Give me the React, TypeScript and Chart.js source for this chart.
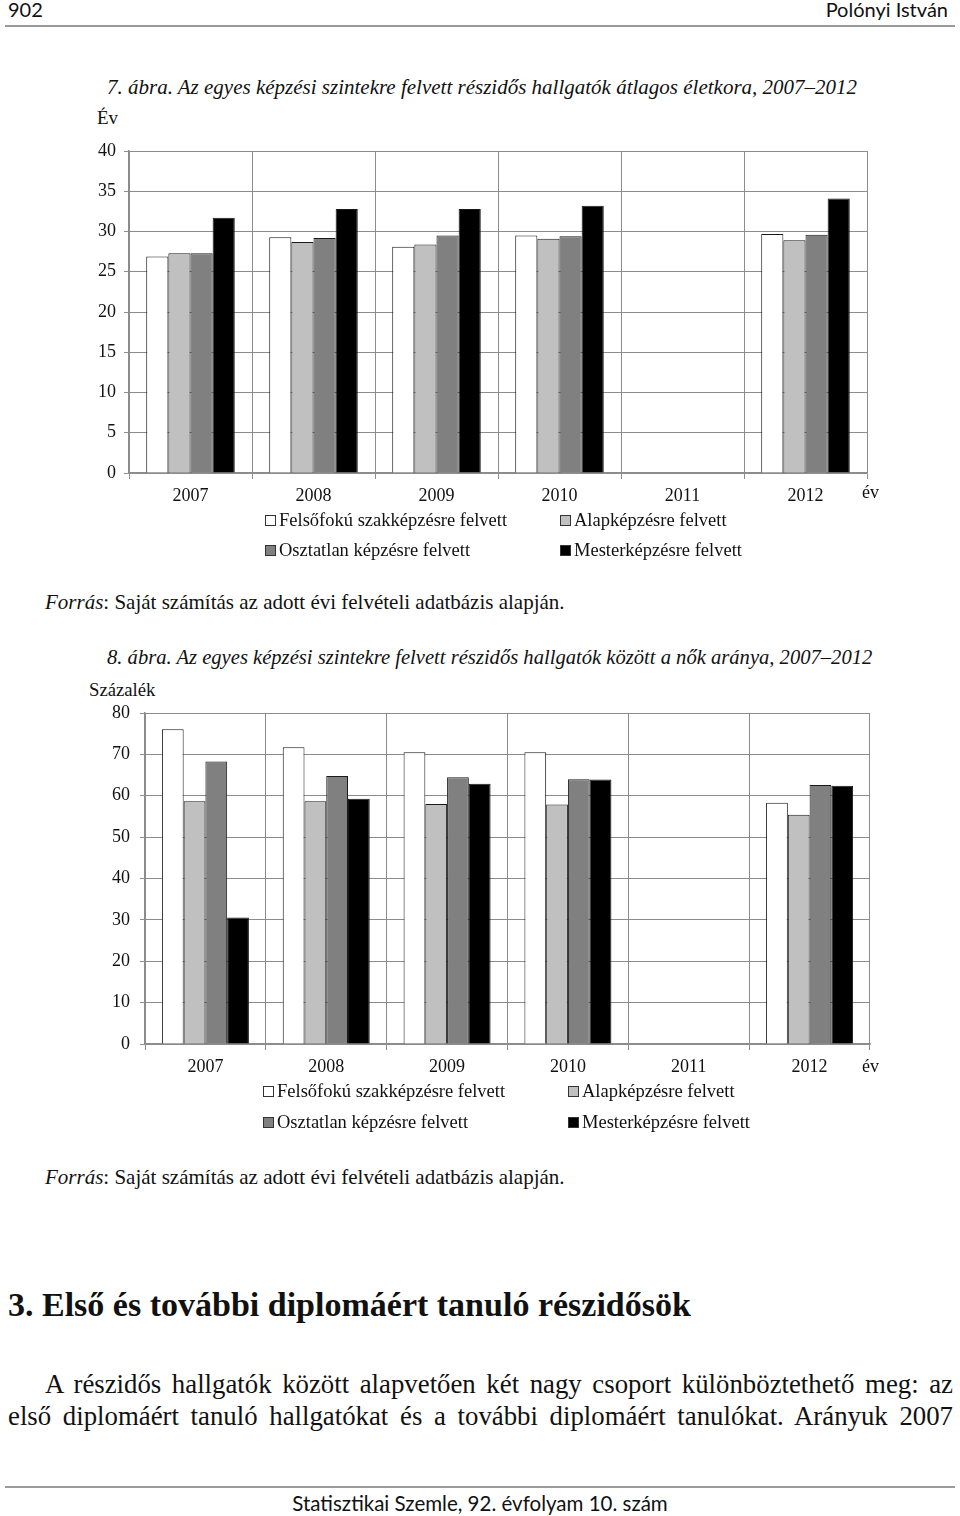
import React, { useEffect, useRef } from "react";
import { Chart, registerables } from "chart.js";

Chart.register(...registerables);

const years = ["2007", "2008", "2009", "2010", "2011", "2012"];
const seriesNames = [
  "Felsőfokú szakképzésre felvett",
  "Alapképzésre felvett",
  "Osztatlan képzésre felvett",
  "Mesterképzésre felvett",
];
const seriesColors = ["#ffffff", "#c0c0c0", "#808080", "#000000"];

// 7. ábra – average age (years)
const ageFelsofoku = [26.9, 29.3, 28.1, 29.5, null, 29.7];
const ageAlap = [27.3, 28.7, 28.4, 29.1, null, 28.9];
const ageOsztatlan = [27.3, 29.2, 29.5, 29.4, null, 29.6];
const ageMester = [31.7, 32.8, 32.8, 33.2, null, 34.1];
const ageTicks = [0, 5, 10, 15, 20, 25, 30, 35, 40];

// 8. ábra – share of women (%)
const womenFelsofoku = [76.1, 71.7, 70.5, 70.5, null, 58.3];
const womenAlap = [58.7, 58.7, 58.0, 57.9, null, 55.4];
const womenOsztatlan = [68.3, 64.8, 64.5, 64.0, null, 62.6];
const womenMester = [30.6, 59.3, 62.9, 63.9, null, 62.4];
const womenTicks = [0, 10, 20, 30, 40, 50, 60, 70, 80];

const SERIF = "'Liberation Serif', 'Times New Roman', Times, serif";
const SANS = "Lato, 'DejaVu Sans', sans-serif";

type BarChartProps = {
  top: number;
  height: number;
  data: (number | null)[][];
  ticks: number[];
  yAxisWidth: number;
  padTop: number;
  padRight: number;
  xAxisHeight: number;
  yLabelPad: number;
};

function BarChart(p: BarChartProps) {
  const ref = useRef<HTMLCanvasElement | null>(null);
  useEffect(() => {
    if (!ref.current) return;
    const grid = "#8c8c8c";
    const chart = new Chart(ref.current, {
      type: "bar",
      data: {
        labels: years,
        datasets: p.data.map((d, i) => ({
          label: seriesNames[i],
          data: d,
          backgroundColor: seriesColors[i],
          borderColor: "#1a1a1a",
          borderWidth: 1,
          borderSkipped: "bottom",
          barPercentage: 1,
          categoryPercentage: 0.72,
        })),
      },
      options: {
        animation: false,
        responsive: false,
        maintainAspectRatio: false,
        layout: { padding: { top: p.padTop, right: p.padRight, left: 0, bottom: 0 } },
        plugins: { legend: { display: false }, tooltip: { enabled: false } },
        scales: {
          x: {
            afterFit: (s: any) => {
              s.height = p.xAxisHeight;
              s.paddingLeft = 0;
              s.paddingRight = 0;
            },
            grid: { color: grid, offset: true, tickLength: 6, lineWidth: 1 },
            border: { color: grid, width: 1.5 },
            ticks: {
              color: "#111",
              font: { family: SERIF, size: 18 },
              padding: 6,
              maxRotation: 0,
            },
          },
          y: {
            min: p.ticks[0],
            max: p.ticks[p.ticks.length - 1],
            afterFit: (s: any) => {
              s.width = p.yAxisWidth;
              s.paddingTop = 0;
              s.paddingBottom = 0;
            },
            afterBuildTicks: (s: any) => {
              s.ticks = p.ticks.map((v) => ({ value: v }));
            },
            grid: { color: grid, tickLength: 5, lineWidth: 1 },
            border: { color: grid, width: 1.5 },
            ticks: {
              color: "#111",
              font: { family: SERIF, size: 18 },
              padding: p.yLabelPad,
            },
          },
        },
      },
    });
    return () => chart.destroy();
  }, []);
  return (
    <canvas
      ref={ref}
      width={960}
      height={p.height}
      style={{ position: "absolute", left: 0, top: p.top, width: 960, height: p.height }}
    />
  );
}

function T(props: {
  x: number;
  cy: number;
  size: number;
  children: React.ReactNode;
  italic?: boolean;
  bold?: boolean;
  family?: string;
  color?: string;
}) {
  return (
    <div
      style={{
        position: "absolute",
        left: props.x,
        top: props.cy - props.size * 0.58,
        fontFamily: props.family || SERIF,
        fontSize: props.size,
        lineHeight: "1.15",
        fontStyle: props.italic ? "italic" : "normal",
        fontWeight: props.bold ? "bold" : "normal",
        color: props.color || "#111",
        whiteSpace: "nowrap",
      }}
    >
      {props.children}
    </div>
  );
}

function Legend(props: { cy1: number; cy2: number; x1: number; x2: number }) {
  const pos = [
    [props.x1, props.cy1],
    [props.x2, props.cy1],
    [props.x1, props.cy2],
    [props.x2, props.cy2],
  ];
  return (
    <>
      {seriesNames.map((n, i) => (
        <div
          key={n}
          style={{
            position: "absolute",
            left: pos[i][0],
            top: pos[i][1] - 12,
            height: 24,
            display: "flex",
            alignItems: "center",
            fontFamily: SERIF,
            fontSize: 18.5,
            color: "#111",
            whiteSpace: "nowrap",
          }}
        >
          <span
            style={{
              display: "inline-block",
              width: 9,
              height: 9,
              background: seriesColors[i],
              border: "1px solid #333",
              marginRight: 3,
            }}
          />
          {n}
        </div>
      ))}
    </>
  );
}

const paraStyle: React.CSSProperties = {
  position: "absolute",
  fontFamily: SERIF,
  fontSize: 26.8,
  lineHeight: "30px",
  textAlign: "justify",
  textAlignLast: "justify",
  color: "#111",
  whiteSpace: "nowrap",
};

export default function App() {
  return (
    <div
      style={{
        position: "absolute",
        left: 0,
        top: 0,
        width: 960,
        height: 1516,
        background: "#fff",
        overflow: "hidden",
      }}
    >
      {/* header */}
      <T x={8} cy={10} size={20} family={SANS}>902</T>
      <div style={{ position: "absolute", right: 12, top: 10 - 20 * 0.58, fontFamily: SANS, fontSize: 20, lineHeight: "1.15", color: "#111" }}>
        Polónyi István
      </div>
      <div style={{ position: "absolute", left: 5, top: 25, width: 950, height: 2, background: "#9a9a9a" }} />

      {/* figure 7 */}
      <T x={107} cy={87} size={21} italic>
        7. ábra. Az egyes képzési szintekre felvett részidős hallgatók átlagos életkora, 2007–2012
      </T>
      <T x={97} cy={118} size={19}>Év</T>
      <BarChart
        top={140}
        height={372}
        data={[ageFelsofoku, ageAlap, ageOsztatlan, ageMester]}
        ticks={ageTicks}
        yAxisWidth={129}
        padTop={11}
        padRight={93}
        xAxisHeight={39}
        yLabelPad={8}
      />
      <T x={862} cy={492} size={18}>év</T>
      <Legend cy1={520} cy2={550} x1={265} x2={560} />
      <T x={45} cy={602} size={21}>
        <i>Forrás</i>: Saját számítás az adott évi felvételi adatbázis alapján.
      </T>

      {/* figure 8 */}
      <T x={107} cy={658} size={20.6} italic>
        8. ábra. Az egyes képzési szintekre felvett részidős hallgatók között a nők aránya, 2007–2012
      </T>
      <T x={89} cy={690} size={18.7}>Százalék</T>
      <BarChart
        top={700}
        height={380}
        data={[womenFelsofoku, womenAlap, womenOsztatlan, womenMester]}
        ticks={womenTicks}
        yAxisWidth={145}
        padTop={13}
        padRight={90}
        xAxisHeight={36}
        yLabelPad={10}
      />
      <T x={862} cy={1066} size={18}>év</T>
      <Legend cy1={1091} cy2={1122} x1={263} x2={568} />
      <T x={45} cy={1177} size={21}>
        <i>Forrás</i>: Saját számítás az adott évi felvételi adatbázis alapján.
      </T>

      {/* section heading and text */}
      <T x={8} cy={1305} size={34} bold>3. Első és további diplomáért tanuló részidősök</T>
      <div style={{ ...paraStyle, left: 45, top: 1384 - 15, width: 908 }}>
        A részidős hallgatók között alapvetően két nagy csoport különböztethető meg: az
      </div>
      <div style={{ ...paraStyle, left: 8, top: 1416 - 15, width: 945 }}>
        első diplomáért tanuló hallgatókat és a további diplomáért tanulókat. Arányuk 2007
      </div>

      {/* footer */}
      <div style={{ position: "absolute", left: 5, top: 1486, width: 950, height: 2, background: "#9a9a9a" }} />
      <div
        style={{
          position: "absolute",
          left: 0,
          width: 960,
          top: 1503 - 12,
          textAlign: "center",
          fontFamily: SANS,
          fontSize: 20.5,
          lineHeight: "24px",
          color: "#111",
        }}
      >
        Statisztikai Szemle, 92. évfolyam 10. szám
      </div>
    </div>
  );
}
